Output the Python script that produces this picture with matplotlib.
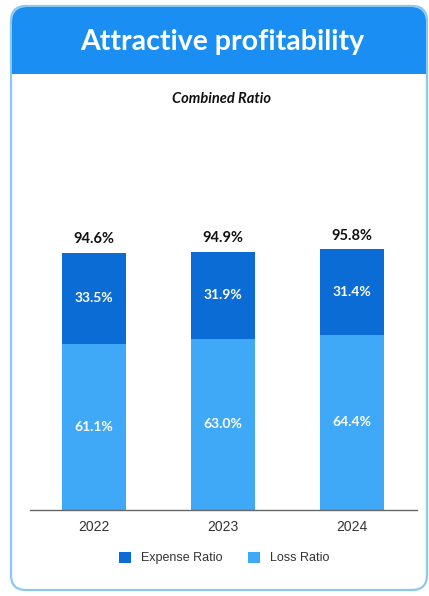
import matplotlib
matplotlib.use("Agg")
import matplotlib.pyplot as plt
from matplotlib.patches import FancyBboxPatch, Rectangle
import numpy as np

years = ["2022", "2023", "2024"]
loss_ratio = [61.1, 63.0, 64.4]
expense_ratio = [33.5, 31.9, 31.4]
combined_ratio = [94.6, 94.9, 95.8]

W, H = 429, 596
DPI = 100
fig = plt.figure(figsize=(W / DPI, H / DPI), dpi=DPI)
fig.patch.set_facecolor("white")

def fx(x):
    return x / W

def fy(y):
    return 1 - y / H

# card background + border
card = FancyBboxPatch((fx(11), fy(590)), fx(427) - fx(11), fy(6) - fy(590),
                      boxstyle="round,pad=0,rounding_size=0.035",
                      transform=fig.transFigure, facecolor="white",
                      edgecolor="#8cc8ee", linewidth=1.6, zorder=0,
                      mutation_aspect=W / H)
fig.patches.append(card)
# header
header = FancyBboxPatch((fx(12), fy(74)), fx(426) - fx(12), fy(7) - fy(74),
                        boxstyle="round,pad=0,rounding_size=0.035",
                        transform=fig.transFigure, facecolor="#1a8ef2",
                        edgecolor="none", zorder=1, mutation_aspect=W / H)
fig.patches.append(header)
fig.patches.append(Rectangle((fx(12), fy(74)), fx(426) - fx(12), fy(40) - fy(74),
                             transform=fig.transFigure, facecolor="#1a8ef2",
                             edgecolor="none", zorder=1))

fig.text(fx(222), fy(42), "Attractive profitability", color="white",
         fontsize=20.5, fontweight="bold", ha="center", va="center",
         family="Lato", zorder=3)
fig.text(fx(222), fy(99), "Combined Ratio", color="#111111",
         fontsize=10.5, fontweight="bold", style="italic", ha="center",
         va="center", family="Lato", zorder=3)

# axes: x centers 94, 223, 352 px; y 0 at 510, 2.72 px/unit
ax_left, ax_right = 29.5, 416.5
ymax = 140
ax_bottom = 510
ax_top = 510 - ymax * 2.72
ax = fig.add_axes([fx(ax_left), fy(ax_bottom), fx(ax_right) - fx(ax_left),
                   fy(ax_top) - fy(ax_bottom)])
ax.set_facecolor("none")
ax.set_zorder(5)

x = np.arange(len(years))
loss_color = "#3fa9f7"
exp_color = "#0a6cd4"
bw = 0.49
ax.bar(x, loss_ratio, width=bw, color=loss_color, label="Loss Ratio", zorder=2)
ax.bar(x, expense_ratio, width=bw, bottom=loss_ratio, color=exp_color,
       label="Expense Ratio", zorder=2)

for i in range(len(years)):
    ax.text(x[i], loss_ratio[i] / 2, f"{loss_ratio[i]:.1f}%", color="white",
            ha="center", va="center", fontsize=10, fontweight="bold",
            family="Lato")
    ax.text(x[i], loss_ratio[i] + expense_ratio[i] / 2,
            f"{expense_ratio[i]:.1f}%", color="white", ha="center",
            va="center", fontsize=10, fontweight="bold", family="Lato")
    ax.text(x[i], combined_ratio[i] + 2.5, f"{combined_ratio[i]:.1f}%",
            color="#111111", ha="center", va="bottom", fontsize=10.5,
            fontweight="bold", family="Lato")

ax.set_xlim(-0.5, 2.5)
ax.set_ylim(0, ymax)
ax.set_xticks(x)
ax.set_xticklabels(years, fontsize=10, color="#333333",
                   family="Liberation Sans")
ax.tick_params(axis="x", length=0, pad=7)
ax.set_yticks([])
for s in ["top", "right", "left"]:
    ax.spines[s].set_visible(False)
ax.spines["bottom"].set_color("#666666")
ax.spines["bottom"].set_linewidth(1.0)

handles, labels = ax.get_legend_handles_labels()
leg = fig.legend(handles[::-1], labels[::-1], loc="center",
                 bbox_to_anchor=(fx(224), fy(558)), ncol=2, frameon=False,
                 handlelength=1.0, handleheight=1.0, handletextpad=0.8,
                 columnspacing=2.0,
                 prop={"family": "Liberation Sans", "size": 9})
leg.set_zorder(6)
for t in leg.get_texts():
    t.set_color("#333333")

fig.savefig("out.png", dpi=DPI)
